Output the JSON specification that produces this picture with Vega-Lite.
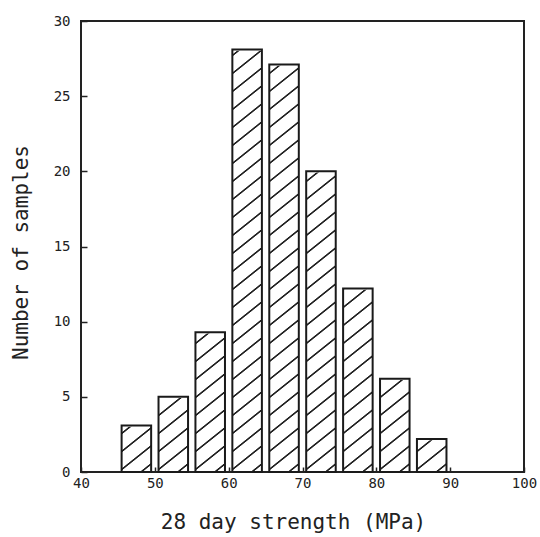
{
  "$schema": "https://vega.github.io/schema/vega-lite/v6.json",
  "width": 443,
  "height": 451,
  "autosize": {"type": "none"},
  "padding": {"left": 81, "top": 21, "right": 16, "bottom": 65},
  "background": "white",
  "config": {
    "view": {"stroke": "#222", "strokeWidth": 2},
    "axis": {
      "grid": false,
      "domain": false,
      "labelFont": "DejaVu Sans Mono",
      "labelFontSize": 14,
      "labelColor": "#222",
      "tickColor": "#222",
      "tickWidth": 1.5,
      "titleFont": "DejaVu Sans Mono",
      "titleFontSize": 21,
      "titleFontWeight": "normal",
      "titleColor": "#222",
      "labelFlush": false
    }
  },
  "data": {
    "values": [
      {"start": 45.5, "end": 49.5, "count": 3.1},
      {"start": 50.5, "end": 54.5, "count": 5},
      {"start": 55.5, "end": 59.5, "count": 9.3},
      {"start": 60.5, "end": 64.5, "count": 28.1},
      {"start": 65.5, "end": 69.5, "count": 27.1},
      {"start": 70.5, "end": 74.5, "count": 20},
      {"start": 75.5, "end": 79.5, "count": 12.2},
      {"start": 80.5, "end": 84.5, "count": 6.2},
      {"start": 85.5, "end": 89.5, "count": 2.2}
    ]
  },
  "layer": [
    {
      "mark": {
        "type": "rect",
        "strokeWidth": 0,
        "fill": {
          "gradient": "linear",
          "x1": 0, "y1": 0, "x2": 0.056302, "y2": 1.0568,
          "stops": [
            {"offset": 0, "color": "#fff"},
            {"offset": 0.0160, "color": "#fff"},{"offset": 0.0179, "color": "#222"},{"offset": 0.0204, "color": "#222"},{"offset": 0.0223, "color": "#fff"},
            {"offset": 0.0543, "color": "#fff"},{"offset": 0.0562, "color": "#222"},{"offset": 0.0587, "color": "#222"},{"offset": 0.0606, "color": "#fff"},
            {"offset": 0.0926, "color": "#fff"},{"offset": 0.0945, "color": "#222"},{"offset": 0.0970, "color": "#222"},{"offset": 0.0989, "color": "#fff"},
            {"offset": 0.1309, "color": "#fff"},{"offset": 0.1328, "color": "#222"},{"offset": 0.1353, "color": "#222"},{"offset": 0.1372, "color": "#fff"},
            {"offset": 0.1691, "color": "#fff"},{"offset": 0.1711, "color": "#222"},{"offset": 0.1736, "color": "#222"},{"offset": 0.1755, "color": "#fff"},
            {"offset": 0.2074, "color": "#fff"},{"offset": 0.2094, "color": "#222"},{"offset": 0.2119, "color": "#222"},{"offset": 0.2138, "color": "#fff"},
            {"offset": 0.2457, "color": "#fff"},{"offset": 0.2477, "color": "#222"},{"offset": 0.2502, "color": "#222"},{"offset": 0.2521, "color": "#fff"},
            {"offset": 0.2840, "color": "#fff"},{"offset": 0.2860, "color": "#222"},{"offset": 0.2885, "color": "#222"},{"offset": 0.2904, "color": "#fff"},
            {"offset": 0.3223, "color": "#fff"},{"offset": 0.3243, "color": "#222"},{"offset": 0.3268, "color": "#222"},{"offset": 0.3287, "color": "#fff"},
            {"offset": 0.3606, "color": "#fff"},{"offset": 0.3626, "color": "#222"},{"offset": 0.3651, "color": "#222"},{"offset": 0.3670, "color": "#fff"},
            {"offset": 0.3989, "color": "#fff"},{"offset": 0.4009, "color": "#222"},{"offset": 0.4034, "color": "#222"},{"offset": 0.4053, "color": "#fff"},
            {"offset": 0.4372, "color": "#fff"},{"offset": 0.4391, "color": "#222"},{"offset": 0.4417, "color": "#222"},{"offset": 0.4436, "color": "#fff"},
            {"offset": 0.4755, "color": "#fff"},{"offset": 0.4774, "color": "#222"},{"offset": 0.4800, "color": "#222"},{"offset": 0.4819, "color": "#fff"},
            {"offset": 0.5138, "color": "#fff"},{"offset": 0.5157, "color": "#222"},{"offset": 0.5183, "color": "#222"},{"offset": 0.5202, "color": "#fff"},
            {"offset": 0.5521, "color": "#fff"},{"offset": 0.5540, "color": "#222"},{"offset": 0.5566, "color": "#222"},{"offset": 0.5585, "color": "#fff"},
            {"offset": 0.5904, "color": "#fff"},{"offset": 0.5923, "color": "#222"},{"offset": 0.5949, "color": "#222"},{"offset": 0.5968, "color": "#fff"},
            {"offset": 0.6287, "color": "#fff"},{"offset": 0.6306, "color": "#222"},{"offset": 0.6332, "color": "#222"},{"offset": 0.6351, "color": "#fff"},
            {"offset": 0.6670, "color": "#fff"},{"offset": 0.6689, "color": "#222"},{"offset": 0.6715, "color": "#222"},{"offset": 0.6734, "color": "#fff"},
            {"offset": 0.7053, "color": "#fff"},{"offset": 0.7072, "color": "#222"},{"offset": 0.7098, "color": "#222"},{"offset": 0.7117, "color": "#fff"},
            {"offset": 0.7436, "color": "#fff"},{"offset": 0.7455, "color": "#222"},{"offset": 0.7481, "color": "#222"},{"offset": 0.7500, "color": "#fff"},
            {"offset": 0.7819, "color": "#fff"},{"offset": 0.7838, "color": "#222"},{"offset": 0.7864, "color": "#222"},{"offset": 0.7883, "color": "#fff"},
            {"offset": 0.8202, "color": "#fff"},{"offset": 0.8221, "color": "#222"},{"offset": 0.8247, "color": "#222"},{"offset": 0.8266, "color": "#fff"},
            {"offset": 0.8585, "color": "#fff"},{"offset": 0.8604, "color": "#222"},{"offset": 0.8630, "color": "#222"},{"offset": 0.8649, "color": "#fff"},
            {"offset": 0.8968, "color": "#fff"},{"offset": 0.8987, "color": "#222"},{"offset": 0.9013, "color": "#222"},{"offset": 0.9032, "color": "#fff"},
            {"offset": 0.9351, "color": "#fff"},{"offset": 0.9370, "color": "#222"},{"offset": 0.9396, "color": "#222"},{"offset": 0.9415, "color": "#fff"},
            {"offset": 0.9734, "color": "#fff"},{"offset": 0.9753, "color": "#222"},{"offset": 0.9779, "color": "#222"},{"offset": 0.9798, "color": "#fff"},
            {"offset": 1, "color": "#fff"}
          ]
        }
      },
      "encoding": {
        "x": {
          "field": "start", "type": "quantitative",
          "title": "28 day strength (MPa)",
          "scale": {"domain": [40, 100], "nice": false, "zero": false},
          "axis": {"values": [40, 50, 60, 70, 80, 90, 100], "tickSize": -5, "labelPadding": 9, "titlePadding": 21, "titleX": 212}
        },
        "x2": {"field": "end"},
        "y": {
          "datum": 0, "type": "quantitative",
          "title": "Number of samples",
          "scale": {"domain": [0, 30], "nice": false},
          "axis": {"values": [0, 5, 10, 15, 20, 25, 30], "tickSize": -6, "labelPadding": 17, "titlePadding": 22, "titleY": 231}
        },
        "y2": {"datum": 29.5}
      }
    },
    {
      "mark": {"type": "rect", "fill": "white", "stroke": "white", "strokeWidth": 2.5},
      "encoding": {
        "x": {"field": "start", "type": "quantitative", "title": "28 day strength (MPa)"},
        "x2": {"field": "end"},
        "y": {"field": "count", "type": "quantitative", "title": "Number of samples"},
        "y2": {"datum": 29.7}
      }
    },
    {
      "mark": {"type": "rect", "fill": "white", "fillOpacity": 0, "stroke": "#1a1a1a", "strokeWidth": 2},
      "encoding": {
        "x": {"field": "start", "type": "quantitative", "title": "28 day strength (MPa)"},
        "x2": {"field": "end"},
        "y": {"field": "count", "type": "quantitative", "title": "Number of samples"},
        "y2": {"datum": 0}
      }
    }
  ]
}
